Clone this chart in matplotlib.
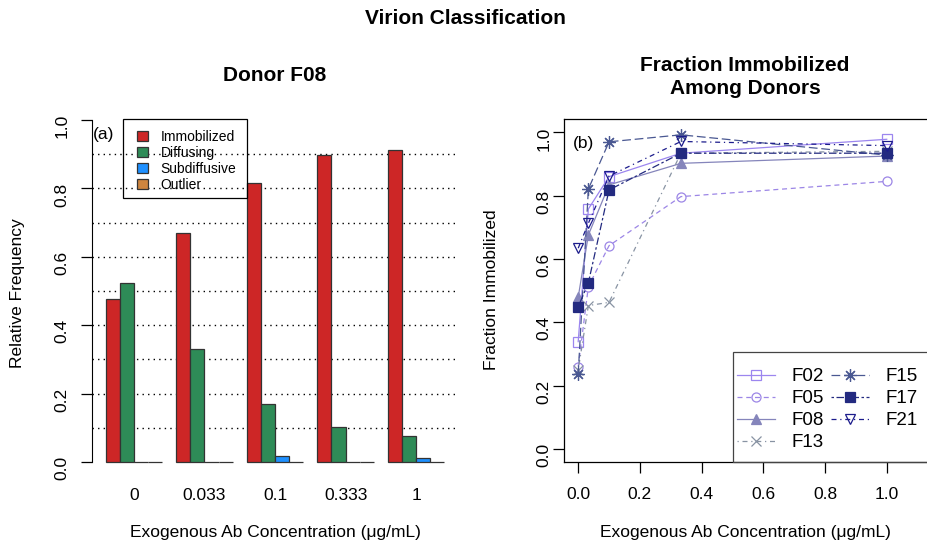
import numpy as np
import matplotlib

matplotlib.use("Agg")
import matplotlib.pyplot as plt
from matplotlib.patches import Patch, Rectangle

plt.rcParams["font.family"] = ["Liberation Sans", "DejaVu Sans"]

# ---- data -------------------------------------------------------------
conc_labels = ["0", "0.033", "0.1", "0.333", "1"]
classes = ["Immobilized", "Diffusing", "Subdiffusive", "Outlier"]
class_colors = ["#CD2626", "#2E8B57", "#1E90FF", "#CD853F"]

immobilized = [0.478, 0.670, 0.815, 0.898, 0.912]
diffusing = [0.522, 0.330, 0.170, 0.102, 0.076]
subdiffusive = [0.0, 0.0, 0.017, 0.0, 0.013]
outlier = [0.0, 0.0, 0.0, 0.0, 0.0]

conc = [0.0, 0.033, 0.1, 0.333, 1.0]
donors = ["F02", "F05", "F08", "F13", "F15", "F17", "F21"]
frac_immob = {
    "F02": [0.339, 0.758, 0.860, 0.934, 0.978],
    "F05": [0.260, 0.513, 0.642, 0.797, 0.845],
    "F08": [0.479, 0.676, 0.834, 0.902, 0.925],
    "F13": [0.250, 0.453, 0.463, 0.934, 0.940],
    "F15": [0.237, 0.821, 0.970, 0.992, 0.928],
    "F17": [0.449, 0.525, 0.818, 0.934, 0.934],
    "F21": [0.634, 0.713, 0.862, 0.971, 0.958],
}
donor_colors = ["#9c86ef", "#9c86e6", "#8585bb", "#8893a3", "#4a5892", "#232a80", "#1c1c8c"]
donor_markers = ["s", "o", "^", "x", (8, 2, 0), "s", "v"]
donor_msize = [6.5, 6.5, 6.5, 6.5, 9, 6.5, 6.5]
donor_filled = [False, False, True, False, False, True, False]
donor_ls = ["-", (0, (4, 3)), "-", (0, (1, 3, 4, 3)), (0, (7, 3)), (0, (2, 2, 6, 2)), (0, (4, 3, 1, 3))]

W, H = 927, 545
fig = plt.figure(figsize=(W / 100, H / 100), dpi=100)


def fx(px):
    return px / W


def fy(py):
    return 1 - py / H


def frame(x0, y0, x1, y1, color="black"):
    # legend box drawn by hand so it can run past the figure edge like the original
    fig.patches.append(Rectangle((fx(x0), fy(y1)), fx(x1) - fx(x0), fy(y0) - fy(y1),
                                 transform=fig.transFigure, fill=False,
                                 edgecolor=color, linewidth=0.9, zorder=5))


LAB = 12.5
TITLE = 15

fig.text(fx(465), fy(18), "Virion Classification", ha="center", va="center",
         fontsize=TITLE, fontweight="bold")

# ---- (a) bar chart ---------------------------------------------------
ax1 = fig.add_axes([fx(92), fy(475.7), fx(458) - fx(92), fy(106.3) - fy(475.7)])
ax1.set_xlim(0.04, 25.96)
ax1.set_ylim(-0.04, 1.04)

ax1.hlines(np.arange(1, 10) / 10, 0.04, 25.82, colors="black",
           linestyles=(0, (1, 3)), linewidth=1.0, zorder=1)

series = [immobilized, diffusing, subdiffusive, outlier]
for k, (vals, col) in enumerate(zip(series, class_colors)):
    lefts = 1 + 5 * np.arange(len(vals)) + k
    ax1.bar(lefts, vals, width=1.0, align="edge", color=col,
            edgecolor="#333333", linewidth=0.9, zorder=2)

for s in ["top", "right", "bottom"]:
    ax1.spines[s].set_visible(False)
ax1.spines["left"].set_bounds(0, 1)
ax1.set_yticks(np.linspace(0, 1, 6))
ax1.set_yticklabels([f"{v:.1f}" for v in np.linspace(0, 1, 6)])
ax1.tick_params(axis="y", labelrotation=90, length=8, width=0.9, pad=8, labelsize=LAB)
ax1.set_xticks(3 + 5 * np.arange(len(conc_labels)))
ax1.set_xticklabels(conc_labels)
ax1.tick_params(axis="x", length=0, pad=9, labelsize=LAB)

ax1.text((93 - 92) / 366, (475.7 - 135) / 369.4, "(a)", transform=ax1.transAxes,
         fontsize=LAB, va="center")

handles = [Patch(facecolor=c, edgecolor="#333333", linewidth=0.9) for c in class_colors]
leg1 = fig.legend(handles, classes, loc="upper left", bbox_to_anchor=(fx(137), fy(130)),
                  bbox_transform=fig.transFigure, fontsize=10, frameon=False,
                  handlelength=0.8, handleheight=0.75, handletextpad=0.9, labelspacing=0.15,
                  borderpad=0, borderaxespad=0)
frame(123, 119, 247, 198)

fig.text(fx(275), fy(75), "Donor F08", ha="center", va="center", fontsize=TITLE, fontweight="bold")
fig.text(fx(275), fy(533), "Exogenous Ab Concentration (\u03bcg/mL)", ha="center", va="center",
         fontsize=LAB)
fig.text(fx(18), fy(293), "Relative Frequency", ha="center", va="center", rotation=90, fontsize=LAB)

# ---- (b) line chart --------------------------------------------------
ax2 = fig.add_axes([fx(564), fy(462), fx(929) - fx(564), fy(119) - fy(462)])
ax2.set_xlim(-0.046, 1.137)
ax2.set_ylim(-0.041, 1.042)

for d, col, mk, ms, filled, ls in zip(donors, donor_colors, donor_markers, donor_msize,
                                      donor_filled, donor_ls):
    ax2.plot(conc, frac_immob[d], color=col, linestyle=ls, linewidth=0.9,
             marker=mk, markersize=ms, markeredgewidth=0.9,
             markerfacecolor=col if filled else "none", markeredgecolor=col, label=d)

ax2.set_xticks(np.linspace(0, 1, 6))
ax2.set_xticklabels([f"{v:.1f}" for v in np.linspace(0, 1, 6)])
ax2.set_yticks(np.linspace(0, 1, 6))
ax2.set_yticklabels([f"{v:.1f}" for v in np.linspace(0, 1, 6)])
ax2.tick_params(axis="x", length=8, width=0.9, pad=10, labelsize=LAB)
ax2.tick_params(axis="y", labelrotation=90, length=8, width=0.9, pad=1, labelsize=LAB)
for s in ax2.spines.values():
    s.set_linewidth(0.9)

ax2.text(0.025, 1.0 - 0.07, "(b)", transform=ax2.transAxes, fontsize=LAB, va="center")

leg2 = fig.legend(*ax2.get_legend_handles_labels(), loc="upper left",
                  bbox_to_anchor=(fx(737), fy(368)), bbox_transform=fig.transFigure,
                  ncol=2, fontsize=13.5, frameon=False,
                  handlelength=2.0, handletextpad=0.9, columnspacing=0.4,
                  labelspacing=0.26, borderpad=0, borderaxespad=0)
frame(733, 352, 960, 462, color="#444444")

fig.text(fx(745), fy(77), "Fraction Immobilized\nAmong Donors", ha="center", va="center",
         fontsize=TITLE, fontweight="bold", linespacing=1.25)
fig.text(fx(745), fy(533), "Exogenous Ab Concentration (\u03bcg/mL)", ha="center", va="center",
         fontsize=LAB)
fig.text(fx(491), fy(290), "Fraction Immobilized", ha="center", va="center", rotation=90,
         fontsize=LAB)

fig.savefig("out.png", dpi=100)
